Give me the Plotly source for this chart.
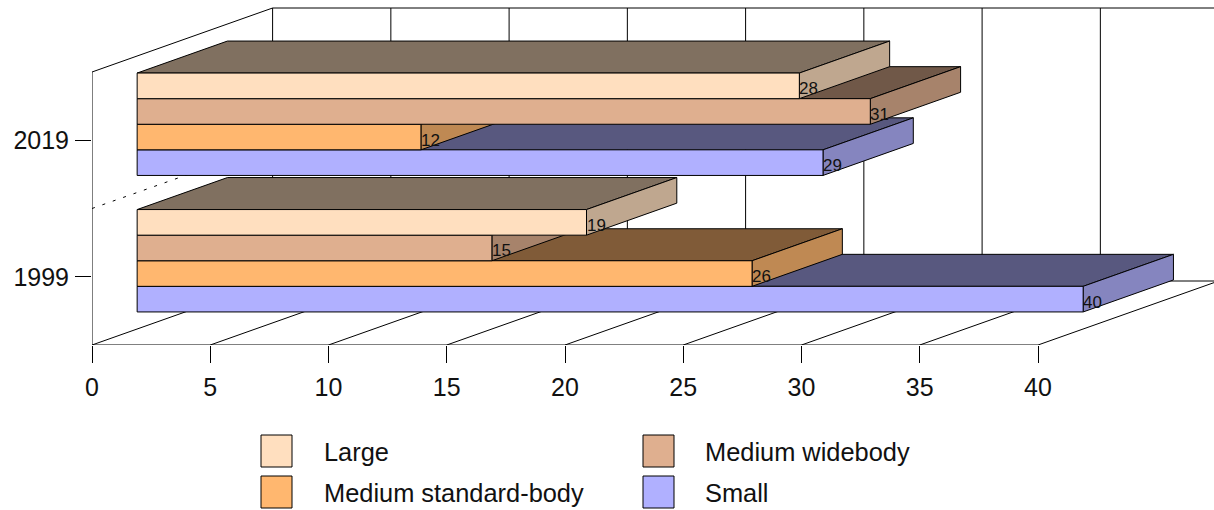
import plotly.graph_objects as go

# ---- data ----
years = ["1999", "2019"]
series_names = ["Small", "Medium standard-body", "Medium widebody", "Large"]
small = [40, 29]
medium_standard = [26, 12]
medium_widebody = [15, 31]
large = [19, 28]
x_ticks = [0, 5, 10, 15, 20, 25, 30, 35, 40]

series_values = [small, medium_standard, medium_widebody, large]

# ---- style ----
FRONT = ["#B0B0FF", "#FFB76F", "#DFAF8F", "#FFDFBF"]
TOP = ["#58587F", "#805B38", "#705848", "#807060"]
SIDE = ["#8585BF", "#BF8953", "#A7836B", "#BFA78F"]
FONT = "Liberation Sans, Arial, sans-serif"
W, H = 1214, 510
L, BASE = 92, 345            # pixel position of the axes origin
PX_X = 946 / 40              # pixels per value unit
PX_Y = 136.5                 # pixels per category
X_MAX = (W - L) / PX_X
Y_MAX = BASE / PX_Y
DX = 180.6 / PX_X            # oblique offset of the full depth
DY = 64 / PX_Y
GAP = 0.125
BAR_H = (1 - 2 * GAP) / len(series_names)
D_FRONT, D_BACK = 0.25, 0.75


def proj(v, c, d):
    return v + d * DX, c + d * DY


def poly(points, fill=None, color="black", dash=None):
    xs = [proj(*p)[0] for p in points]
    ys = [proj(*p)[1] for p in points]
    line = dict(color=color, width=1)
    if dash:
        line["dash"] = dash
    kw = dict(fill="toself", fillcolor=fill) if fill else {}
    return go.Scatter(x=xs, y=ys, mode="lines", line=line, hoverinfo="skip",
                      showlegend=False, cliponaxis=False, **kw)


fig = go.Figure()
n_cat = len(years)

# walls and floor
fig.add_trace(poly([(0, 0, 0), (0, n_cat, 0), (0, n_cat, 1), (x_ticks[-1], n_cat, 1)]))
fig.add_trace(poly([(0, 0, 1), (x_ticks[-1], 0, 1)]))
fig.add_trace(poly([(0, 0, 0), (x_ticks[-1], 0, 0)]))
for t in x_ticks:
    fig.add_trace(poly([(t, 0, 0), (t, 0, 1), (t, n_cat, 1)]))
for c in range(1, n_cat):
    fig.add_trace(poly([(0, c, 0), (0, c, 1)], dash="3px,8px"))

annotations = []
# bars, lowest first within each group
for c in range(n_cat):
    for s, vals in enumerate(series_values):
        v = vals[c]
        y0 = c + GAP + s * BAR_H
        y1 = y0 + BAR_H
        fig.add_trace(poly([(0, y1, D_FRONT), (v, y1, D_FRONT), (v, y1, D_BACK), (0, y1, D_BACK), (0, y1, D_FRONT)], TOP[s]))
        fig.add_trace(poly([(v, y0, D_FRONT), (v, y1, D_FRONT), (v, y1, D_BACK), (v, y0, D_BACK), (v, y0, D_FRONT)], SIDE[s]))
        fig.add_trace(poly([(0, y0, D_FRONT), (v, y0, D_FRONT), (v, y1, D_FRONT), (0, y1, D_FRONT), (0, y0, D_FRONT)], FRONT[s]))
        px, py = proj(v, (y0 + y1) / 2, D_FRONT)
        annotations.append(dict(x=px, y=py, xref="x", yref="y", text=str(v), showarrow=False,
                                xanchor="left", yanchor="middle", yshift=-3, xshift=-2,
                                font=dict(family=FONT, size=17, color="#111111")))

# legend drawn at the reference's size
legend_layout = {"Large": (261, 322), "Medium widebody": (643, 703),
                 "Medium standard-body": (261, 322), "Small": (643, 703)}
legend_rows = {"Large": 435, "Medium widebody": 435, "Medium standard-body": 476, "Small": 476}
shapes = []
for s, name in enumerate(series_names):
    lx, tx = legend_layout[name]
    ly = legend_rows[name]
    shapes.append(dict(type="rect", xref="paper", yref="paper",
                       x0=(lx - L) / (W - L), x1=(lx + 31 - L) / (W - L),
                       y0=(BASE - ly) / BASE, y1=(BASE - ly - 32) / BASE,
                       fillcolor=FRONT[s], line=dict(color="black", width=1)))
    annotations.append(dict(xref="paper", yref="paper", x=(tx - L) / (W - L),
                            y=(BASE - ly - 17) / BASE, text=name, showarrow=False,
                            xanchor="left", yanchor="middle",
                            font=dict(family=FONT, size=25.4, color="#111111")))

fig.update_layout(
    width=W, height=H, autosize=False,
    margin=dict(l=L, r=0, t=0, b=H - BASE, pad=0, autoexpand=False),
    paper_bgcolor="white", plot_bgcolor="white", showlegend=False,
    shapes=shapes, annotations=annotations,
    font=dict(family=FONT, size=25, color="#111111"),
    xaxis=dict(range=[0, X_MAX], tickmode="array", tickvals=x_ticks,
               ticktext=[str(t) for t in x_ticks], ticks="outside", ticklen=17,
               tickwidth=1, tickcolor="black", showgrid=False, zeroline=False,
               showline=False, ticklabelstandoff=3,
               tickfont=dict(family=FONT, size=25, color="#111111")),
    yaxis=dict(range=[0, Y_MAX], tickmode="array",
               tickvals=[i + 0.5 for i in range(n_cat)], ticktext=years,
               ticks="outside", ticklen=16, tickwidth=1, tickcolor="black",
               showgrid=False, zeroline=False, showline=False, ticklabelstandoff=1,
               tickfont=dict(family=FONT, size=25, color="#111111")),
)

fig.write_html("out.html", config={"displayModeBar": False},
               post_script="document.body.style.margin='0';document.body.style.overflow='hidden';")
